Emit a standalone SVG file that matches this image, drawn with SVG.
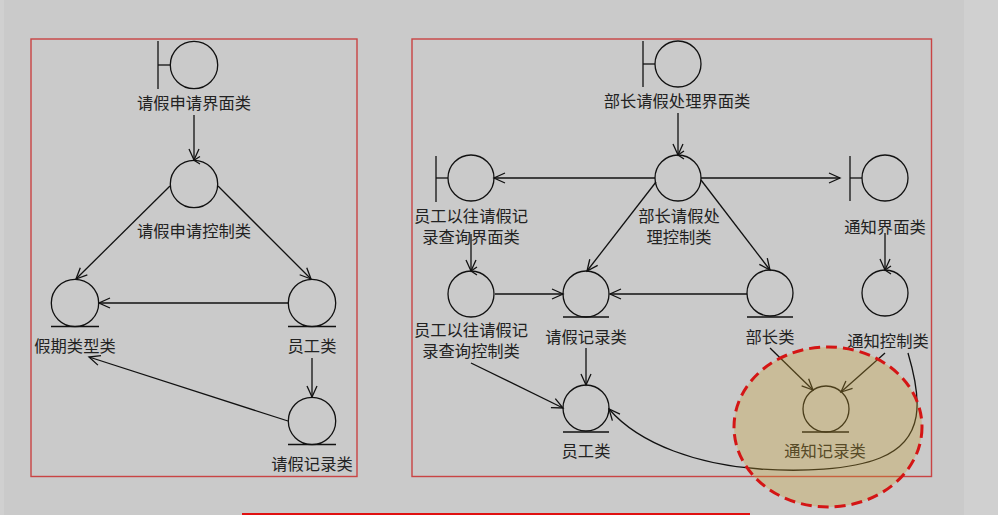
<svg xmlns="http://www.w3.org/2000/svg" width="998" height="515" viewBox="0 0 998 515">
<style>
  text { font-family: "Noto Sans CJK SC", "Noto Sans", sans-serif; font-size: 16.3px; fill: #222; text-anchor: middle; dominant-baseline: central; }
  .sym { fill: none; stroke: #111; stroke-width: 1.3; }
  .frame { fill: none; stroke: #c94444; stroke-width: 1.4; }
  .conn path, .conn line { fill: none; stroke: #111; stroke-width: 1.3; marker-end: url(#arr); }
</style>
<defs>
  <marker id="arr" viewBox="-12 -7 14 14" markerWidth="14" markerHeight="14" refX="0" refY="0" orient="auto" markerUnits="userSpaceOnUse">
    <path d="M-11,-5 L0,0 L-11,5" fill="none" stroke="#111" stroke-width="1.3"/>
  </marker>
</defs>
<rect x="0" y="0" width="998" height="515" fill="#cacaca"/>
<rect x="0" y="0" width="4" height="515" fill="#d0d0d0"/>
<rect x="964" y="0" width="34" height="515" fill="#d0d0d0"/>
<rect x="242" y="513" width="508" height="2" fill="#e01010"/>

<rect class="frame" x="31" y="39" width="326" height="437.5"/>
<rect class="frame" x="412" y="39" width="519.5" height="437.5"/>

<!-- Left diagram nodes -->
<g id="n-qjsqjm">
  <line class="sym" x1="158" y1="41" x2="158" y2="89"/>
  <line class="sym" x1="158" y1="65" x2="170.5" y2="65"/>
  <circle class="sym" cx="194" cy="65" r="23.7"/>
  <text x="194" y="102">请假申请界面类</text>
</g>
<g id="n-qjsqkz">
  <circle class="sym" cx="194" cy="184" r="23.7"/>
  <path class="sym" d="M200,156.5 L194,160.3 L200,164"/>
  <text x="194" y="230">请假申请控制类</text>
</g>
<g id="n-jqlx">
  <circle class="sym" cx="75" cy="303" r="23.7"/>
  <line class="sym" x1="51" y1="326.5" x2="99" y2="326.5"/>
  <text x="75" y="345">假期类型类</text>
</g>
<g id="n-yg-l">
  <circle class="sym" cx="312" cy="303" r="23.7"/>
  <line class="sym" x1="288" y1="326.5" x2="336" y2="326.5"/>
  <text x="312" y="345">员工类</text>
</g>
<g id="n-qjjl-l">
  <circle class="sym" cx="312" cy="421" r="23.7"/>
  <line class="sym" x1="288" y1="444.5" x2="336" y2="444.5"/>
  <text x="312" y="463">请假记录类</text>
</g>

<!-- Right diagram nodes -->
<g id="n-bzjm">
  <line class="sym" x1="643" y1="41" x2="643" y2="87"/>
  <line class="sym" x1="643" y1="64" x2="655" y2="64"/>
  <circle class="sym" cx="678" cy="64" r="23"/>
  <text x="677" y="100">部长请假处理界面类</text>
</g>
<g id="n-bzkz">
  <circle class="sym" cx="678" cy="178" r="23"/>
  <path class="sym" d="M684,151 L678,155 L684,159"/>
  <text x="679" y="215"><tspan x="679" y="215">部长请假处</tspan><tspan x="679" y="236">理控制类</tspan></text>
</g>
<g id="n-ygcxjm">
  <line class="sym" x1="436" y1="156" x2="436" y2="202"/>
  <line class="sym" x1="436" y1="178" x2="448" y2="178"/>
  <circle class="sym" cx="471" cy="178" r="23"/>
  <text x="471" y="215"><tspan x="471" y="215">员工以往请假记</tspan><tspan x="471" y="236">录查询界面类</tspan></text>
</g>
<g id="n-tzjm">
  <line class="sym" x1="850" y1="156" x2="850" y2="201"/>
  <line class="sym" x1="850" y1="178" x2="862" y2="178"/>
  <circle class="sym" cx="885" cy="178" r="23"/>
  <text x="885" y="226">通知界面类</text>
</g>
<g id="n-ygcxkz">
  <circle class="sym" cx="471" cy="294" r="23"/>
  <path class="sym" d="M477,267 L471,271 L477,275"/>
  <text x="471" y="329"><tspan x="471" y="329">员工以往请假记</tspan><tspan x="471" y="350">录查询控制类</tspan></text>
</g>
<g id="n-qjjl-r">
  <circle class="sym" cx="586" cy="294" r="23"/>
  <line class="sym" x1="563" y1="317" x2="609" y2="317"/>
  <text x="586" y="336">请假记录类</text>
</g>
<g id="n-bz">
  <circle class="sym" cx="770" cy="293" r="23"/>
  <line class="sym" x1="747" y1="317" x2="793" y2="317"/>
  <text x="770" y="336">部长类</text>
</g>
<g id="n-tzkz">
  <circle class="sym" cx="885" cy="293" r="23"/>
  <path class="sym" d="M891,266 L885,270 L891,274"/>
  <text x="888" y="340">通知控制类</text>
</g>
<g id="n-yg-r">
  <circle class="sym" cx="586" cy="408" r="23"/>
  <line class="sym" x1="563" y1="432" x2="609" y2="432"/>
  <text x="586" y="450">员工类</text>
</g>
<g id="n-tzjl">
  <circle class="sym" cx="826" cy="409" r="23"/>
  <line class="sym" x1="802" y1="432" x2="849" y2="432"/>
  <text x="825" y="450">通知记录类</text>
</g>

<!-- Connectors -->
<g id="connectors" class="conn">
  <line x1="194" y1="115" x2="194" y2="160"/>
  <line x1="170" y1="186" x2="76" y2="279"/>
  <line x1="218" y1="186" x2="311" y2="279"/>
  <line x1="288" y1="303" x2="99" y2="303"/>
  <line x1="312" y1="358" x2="312" y2="397"/>
  <line x1="288" y1="421" x2="89" y2="357"/>

  <line x1="678" y1="113" x2="678" y2="155"/>
  <line x1="655" y1="178" x2="494" y2="178"/>
  <line x1="701" y1="178" x2="840" y2="178"/>
  <line x1="885" y1="233" x2="885" y2="270"/>
  <line x1="471" y1="234" x2="471" y2="271"/>
  <line x1="495" y1="294" x2="563" y2="294"/>
  <line x1="656" y1="182" x2="587" y2="271"/>
  <line x1="701" y1="180" x2="770" y2="270"/>
  <line x1="747" y1="294" x2="610" y2="294"/>
  <line x1="586" y1="348" x2="586" y2="385"/>
  <line x1="471" y1="363" x2="563" y2="408"/>
  <line x1="770" y1="348" x2="813" y2="390"/>
  <line x1="885" y1="353" x2="841" y2="392"/>
  <path d="M908,353 C922,400 925,440 880,458 C850,470 800,472 760,469 C700,465 640,445 609,409"/>
</g>

<!-- Highlight -->
<g id="highlight">
  <ellipse cx="828" cy="427" rx="94" ry="80" fill="#c8a032" fill-opacity="0.32" stroke="none"/>
  <ellipse cx="828" cy="427" rx="94" ry="80" fill="none" stroke="#d41515" stroke-width="3" stroke-dasharray="11 6"/>
</g>
</svg>
